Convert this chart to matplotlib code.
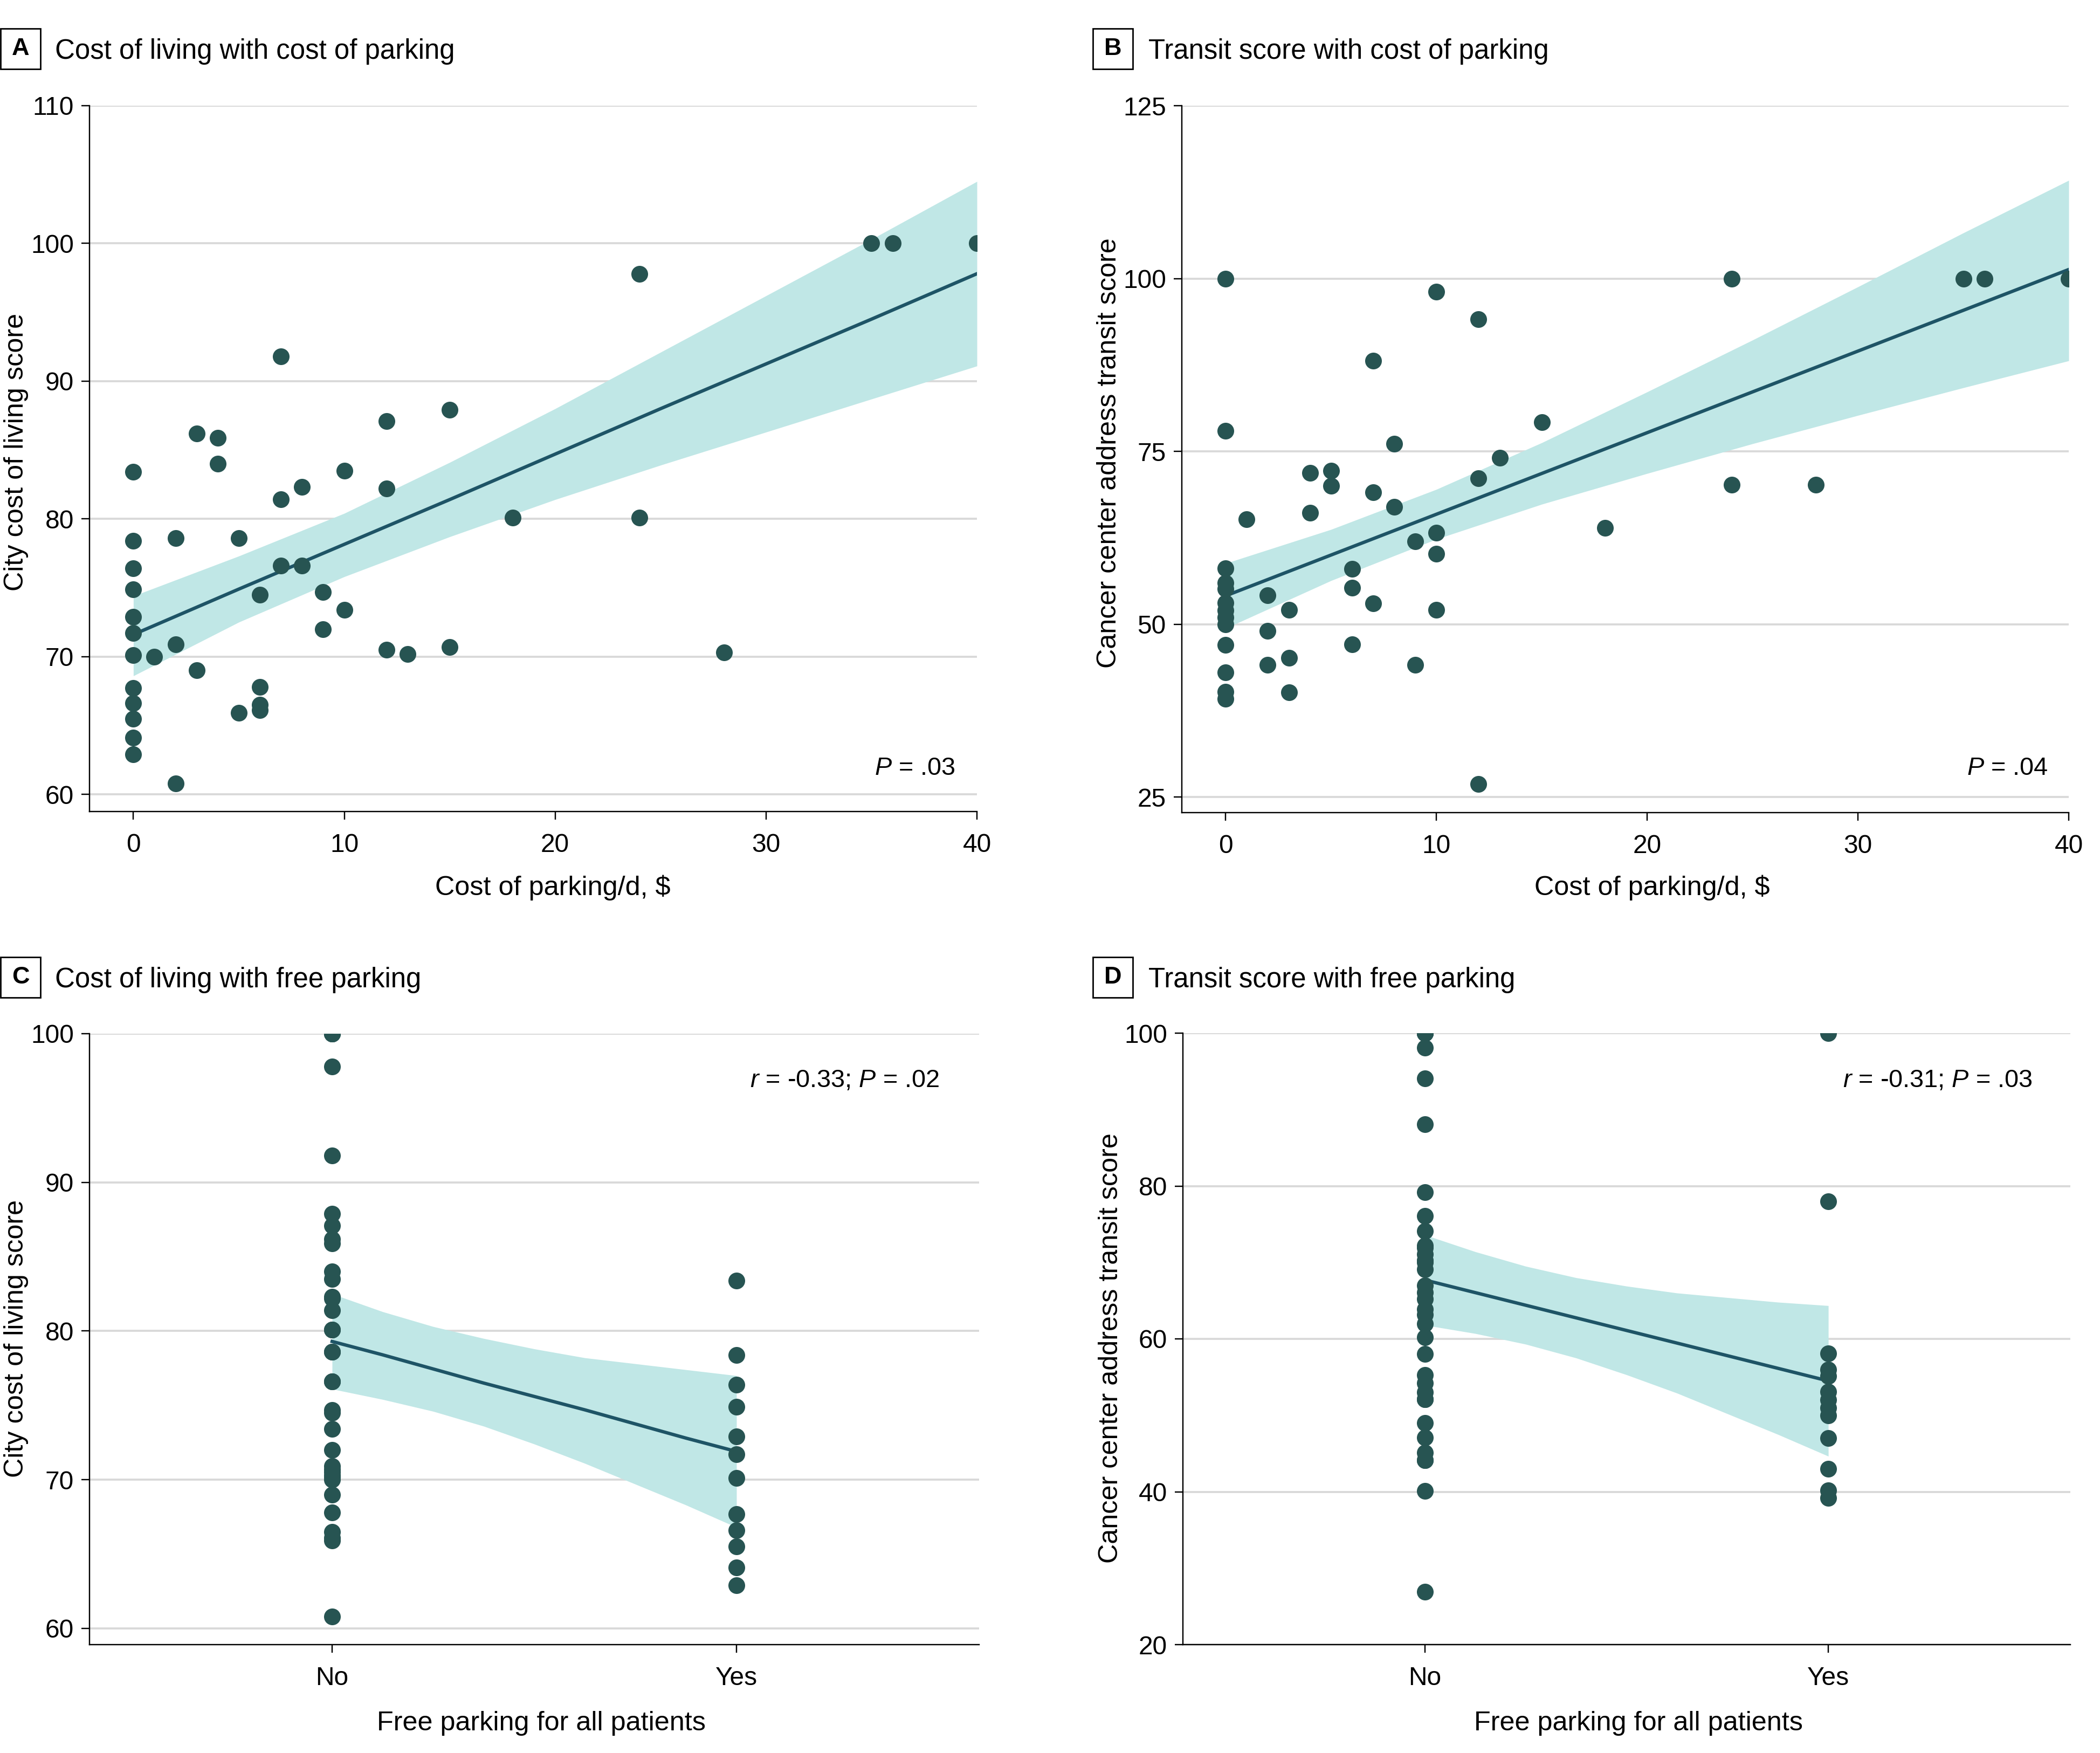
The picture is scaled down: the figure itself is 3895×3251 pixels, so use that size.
"""Four-panel scatter: parking cost / free parking vs cost of living and transit score."""

import matplotlib

matplotlib.use("Agg")
import matplotlib.pyplot as plt
import numpy as np
from matplotlib.patches import Rectangle

plt.rcParams["font.family"] = ["Liberation Sans", "DejaVu Sans"]
plt.rcParams["mathtext.fontset"] = "custom"
plt.rcParams["mathtext.rm"] = "Liberation Sans"
plt.rcParams["mathtext.it"] = "Liberation Sans:italic"

W, H, DPI = 3895, 3251, 250

# --- data -----------------------------------------------------------------
# panel A: cost of parking per day ($) vs city cost of living score
cost_a = [0, 0, 0, 0, 0, 0, 0, 0, 0, 0, 0, 0,
          1, 2, 2, 2, 3, 3, 4, 4, 5, 5, 6, 6, 6, 6, 7, 7, 7, 8, 8, 9, 9,
          10, 10, 12, 12, 12, 13, 15, 15, 18, 24, 24, 28, 35, 36, 40]
living_a = [83.4, 78.4, 76.4, 74.9, 72.9, 71.7, 70.1, 67.7, 66.6, 65.5, 64.1, 62.9,
            70.0, 78.6, 70.9, 60.8, 86.2, 69.0, 85.9, 84.0, 78.6, 65.9, 74.5, 67.8,
            66.5, 66.1, 91.8, 81.4, 76.6, 82.3, 76.6, 74.7, 72.0, 83.5, 73.4, 87.1,
            82.2, 70.5, 70.2, 87.9, 70.7, 80.1, 97.8, 80.1, 70.3, 100, 100, 100]

# panel B: cost of parking per day ($) vs cancer center transit score
cost_b = [0, 0, 0, 0, 0, 0, 0, 0, 0, 0, 0, 0, 0,
          1, 2, 2, 2, 3, 3, 3, 4, 4, 5, 5, 6, 6, 6, 7, 7, 7, 8, 8, 9, 9,
          10, 10, 10, 10, 12, 12, 12, 13, 15, 18, 24, 24, 28, 35, 36, 40]
transit_b = [100, 78.0, 58.1, 56.0, 55.1, 53.1, 52.0, 51.0, 50.0, 47.0, 43.0, 40.2, 39.2,
             65.2, 54.2, 49.0, 44.1, 52.1, 45.1, 40.1, 71.9, 66.1, 72.2, 70.0, 58.0,
             55.3, 47.1, 88.1, 69.1, 53.0, 76.1, 67.0, 62.0, 44.1, 98.1, 63.2, 60.2,
             52.1, 94.1, 71.1, 26.9, 74.1, 79.2, 63.9, 100, 70.2, 70.2, 100, 100, 100]

# fitted line and 95% band as drawn in the figure
fit_ab_x = [0, 5, 10, 15, 20, 25, 30, 35, 40]
fit_a = [71.6, 74.9, 78.15, 81.4, 84.7, 88.0, 91.25, 94.5, 97.8]
ci_a_hi = [74.4, 77.3, 80.4, 84.1, 88.0, 92.1, 96.2, 100.3, 104.5]
ci_a_lo = [68.6, 72.5, 75.8, 78.7, 81.4, 83.9, 86.3, 88.7, 91.1]

fit_b = [54.1, 60.0, 65.9, 71.8, 77.7, 83.6, 89.5, 95.4, 101.3]
ci_b_hi = [58.8, 63.7, 69.5, 76.25, 83.6, 91.1, 98.8, 106.6, 114.2]
ci_b_lo = [49.4, 56.3, 62.3, 67.35, 71.8, 76.1, 80.2, 84.2, 88.1]

fit_cd_x = [0, 0.125, 0.25, 0.375, 0.5, 0.625, 0.75, 0.875, 1.0]
fit_c = [79.3, 78.4, 77.45, 76.5, 75.6, 74.7, 73.75, 72.8, 71.9]
ci_c_hi = [82.5, 81.3, 80.3, 79.5, 78.8, 78.2, 77.8, 77.4, 77.0]
ci_c_lo = [76.1, 75.4, 74.6, 73.6, 72.4, 71.1, 69.7, 68.3, 66.8]

fit_d = [67.7, 66.05, 64.4, 62.75, 61.1, 59.45, 57.8, 56.15, 54.5]
ci_d_hi = [73.6, 71.4, 69.5, 68.0, 66.9, 66.0, 65.4, 64.8, 64.35]
ci_d_lo = [61.8, 60.7, 59.3, 57.5, 55.3, 52.9, 50.2, 47.5, 44.65]

free_labels = ["No", "Yes"]

# --- style ------------------------------------------------------------------
DOT = "#275452"
LINE = "#1e5466"
BAND = "#c0e7e6"
GRID = "#d9d9d9"


def fx(x):
    return x / W


def fy(y):
    return 1 - y / H


def box(l, t, r, b):
    return [fx(l), fy(b), (r - l) / W, (b - t) / H]


def style(ax, ylim, yticks):
    ax.set_ylim(*ylim)
    ax.set_yticks(yticks)
    for s in ("top", "right"):
        ax.spines[s].set_visible(False)
    for s in ("left", "bottom"):
        ax.spines[s].set_linewidth(0.7)
    ax.grid(axis="y", color=GRID, linewidth=1.1, zorder=0)
    ax.set_axisbelow(True)
    ax.tick_params(axis="both", direction="out", length=4.4, width=0.7,
                   labelsize=13.8)
    ax.tick_params(axis="y", pad=4)
    ax.tick_params(axis="x", pad=7)


def draw(ax, x, y, fx_, fit, lo, hi):
    ax.fill_between(fx_, lo, hi, color=BAND, linewidth=0, zorder=1)
    ax.plot(fx_, fit, color=LINE, linewidth=1.8, zorder=2)
    ax.scatter(x, y, s=80, color=DOT, linewidths=0, zorder=3)


fig = plt.figure(figsize=(W / DPI, H / DPI), dpi=DPI)

ax_a = fig.add_axes(box(166, 196, 1812, 1505))
ax_b = fig.add_axes(box(2192, 196, 3837, 1507))
ax_c = fig.add_axes(box(166, 1917, 1816, 3050))
ax_d = fig.add_axes(box(2194, 1916, 3840, 3050))

cost_a = np.array(cost_a)
cost_b = np.array(cost_b)
living_a = np.array(living_a)
transit_b = np.array(transit_b)
free_a = (cost_a == 0).astype(int)
free_b = (cost_b == 0).astype(int)

draw(ax_a, cost_a, living_a, fit_ab_x, fit_a, ci_a_lo, ci_a_hi)
draw(ax_b, cost_b, transit_b, fit_ab_x, fit_b, ci_b_lo, ci_b_hi)
draw(ax_c, free_a, living_a, fit_cd_x, fit_c, ci_c_lo, ci_c_hi)
draw(ax_d, free_b, transit_b, fit_cd_x, fit_d, ci_d_lo, ci_d_hi)

style(ax_a, (58.75, 110), np.arange(60, 111, 10))
style(ax_b, (22.74, 125), np.arange(25, 126, 25))
style(ax_c, (58.91, 100), np.arange(60, 101, 10))
style(ax_d, (20, 100), np.arange(20, 101, 20))

for ax in (ax_a, ax_b):
    ax.set_xlim(-2.08, 40)
    ax.set_xticks([0, 10, 20, 30, 40])
for ax in (ax_c, ax_d):
    ax.set_xlim(-0.6, 1.6)
    ax.set_xticks([0, 1])
    ax.set_xticklabels(free_labels)

# panel letters and titles
panels = [
    ("A", "Cost of living with cost of parking", 0, 102, 0),
    ("B", "Transit score with cost of parking", 2026, 2130, 0),
    ("C", "Cost of living with free parking", 0, 102, 1722),
    ("D", "Transit score with free parking", 2026, 2130, 1722),
]
for letter, title, bx, tx, dy in panels:
    fig.add_artist(Rectangle((fx(bx + 1), fy(128 + dy)), 74 / W, 75 / H,
                             transform=fig.transFigure, fill=False,
                             edgecolor="black", linewidth=0.8))
    fig.text(fx(bx + 38), fy(91 + dy), letter, ha="center", va="center",
             fontsize=13, fontweight="bold")
    fig.text(fx(tx), fy(109 + dy), title, ha="left", va="baseline",
             fontsize=14.7)

# axis labels
lab = dict(fontsize=14.5, ha="center", va="center")
fig.text(fx(1025), fy(1646), "Cost of parking/d, $", **lab)
fig.text(fx(3064), fy(1646), "Cost of parking/d, $", **lab)
fig.text(fx(1004), fy(3196), "Free parking for all patients", **lab)
fig.text(fx(3039), fy(3196), "Free parking for all patients", **lab)
fig.text(fx(30), fy(838), "City cost of living score", rotation=90, **lab)
fig.text(fx(2057), fy(840), "Cancer center address transit score", rotation=90, **lab)
fig.text(fx(30), fy(2482), "City cost of living score", rotation=90, **lab)
fig.text(fx(2060), fy(2500), "Cancer center address transit score", rotation=90, **lab)

# statistics
st = dict(fontsize=13.5, ha="right", va="center")
fig.text(fx(1772), fy(1425), r"$P$ = .03", **st)
fig.text(fx(3799), fy(1425), r"$P$ = .04", **st)
fig.text(fx(1742), fy(2004), r"$r$ = -0.33; $P$ = .02", **st)
fig.text(fx(3770), fy(2004), r"$r$ = -0.31; $P$ = .03", **st)

fig.savefig("out.png", dpi=DPI)
